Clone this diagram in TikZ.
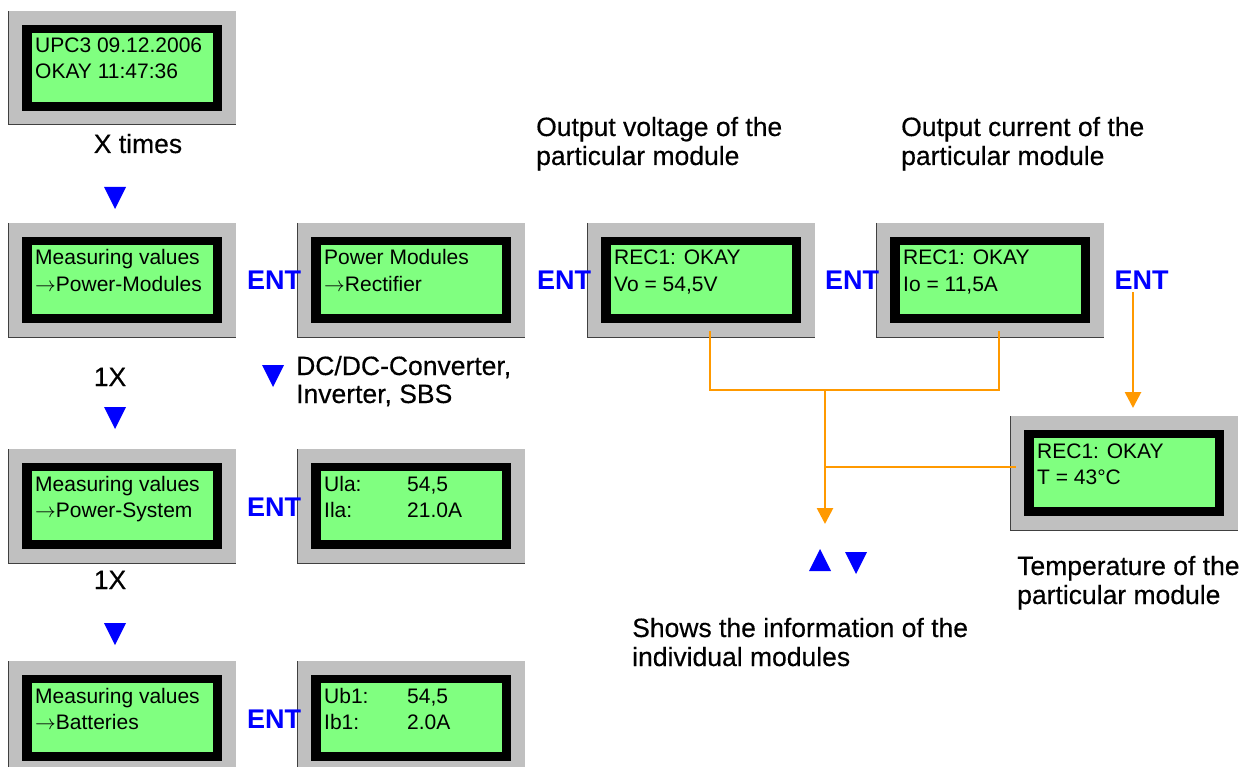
\documentclass[tikz,border=0pt]{standalone}
\usepackage{fontspec}
\setmainfont{Liberation Sans}
\newfontfamily\lblfont[FakeBold=0.35]{Liberation Sans}
\usetikzlibrary{arrows.meta}
\definecolor{lcdgray}{HTML}{C0C0C0}
\definecolor{lcdgreen}{HTML}{80FF80}
\definecolor{entblue}{HTML}{0000FF}
\definecolor{conor}{HTML}{FF9900}
\tikzset{
  lcdframe/.style={fill=lcdgray, minimum width=228pt, minimum height=114pt, inner sep=0pt, outer sep=0pt, draw=none},
  lcdtext/.style={font=\fontsize{21}{25}\selectfont, inner sep=0pt, anchor=base west},
  lbl/.style={font=\lblfont\fontsize{26.5}{30}\selectfont, inner sep=0pt, anchor=base west},
  ent/.style={font=\fontsize{27}{30}\selectfont\bfseries, text=entblue, inner sep=0pt, anchor=base},
  edgeline/.style={draw=black!75, line width=1pt},
  orthin/.style={draw=conor, line width=1.6pt},
  orthick/.style={draw=conor, line width=2.7pt, -{Triangle[width=16pt,length=16pt]}},
  bluetri/.style={fill=entblue},
}
\newcommand\lcdarrow{$\rightarrow$}
\newcommand\lcdbox[5]{%
  \node[lcdframe, anchor=north west] (#1) at (#2,#3) {};
  \fill[black] ([shift={(14pt,-14pt)}]#1.north west) rectangle ([shift={(-14pt,14pt)}]#1.south east);
  \fill[lcdgreen] ([shift={(24pt,-22pt)}]#1.north west) rectangle ([shift={(-23pt,23pt)}]#1.south east);
  \draw[edgeline] (#1.north west) -- (#1.south west) -- (#1.south east);
  \node[lcdtext] (#1l1) at ([shift={(27pt,-42pt)}]#1.north west) {#4};
  \node[lcdtext] (#1l2) at ([shift={(27pt,-68pt)}]#1.north west) {#5};
}
\newcommand\downtri[2]{\fill[bluetri] (#1-11,#2) -- (#1+11,#2) -- (#1,#2+22) -- cycle;}
\newcommand\uptri[2]{\fill[bluetri] (#1-11,#2+22) -- (#1+11,#2+22) -- (#1,#2) -- cycle;}
\begin{document}
\begin{tikzpicture}[x=1pt,y=-1pt]
\useasboundingbox (0,0) rectangle (1258,767);
% LCD boxes
\lcdbox{A}{8}{11}{UPC3 09.12.2006}{OKAY 11:47:36}
\lcdbox{B}{8}{223}{Measuring values}{\lcdarrow Power-Modules}
\lcdbox{C}{297}{223}{Power Modules}{\lcdarrow Rectifier}
\lcdbox{D}{587}{223}{REC1: OKAY}{Vo = 54,5V}
\lcdbox{E}{876}{223}{REC1: OKAY}{Io = 11,5A}
\lcdbox{F}{1010}{416}{REC1: OKAY}{T = 43°C}
\lcdbox{G}{8}{449}{Measuring values}{\lcdarrow Power-System}
\lcdbox{H}{297}{449}{\makebox[83pt][l]{Ula:}54,5}{\makebox[83pt][l]{Ila:}21.0A}
\lcdbox{I}{8}{661}{Measuring values}{\lcdarrow Batteries}
\lcdbox{J}{297}{661}{\makebox[83pt][l]{Ub1:}54,5}{\makebox[83pt][l]{Ib1:}2.0A}
% ENT labels
\node[ent] (ent1) at (274,290) {ENT};
\node[ent] (ent2) at (564,290) {ENT};
\node[ent] (ent3) at (852,290) {ENT};
\node[ent] (ent4) at (1141.5,290) {ENT};
\node[ent] (ent5) at (274,516) {ENT};
\node[ent] (ent6) at (274,728) {ENT};
% labels
\node[lbl, anchor=base] (xt) at (138,153) {X times};
\node[lbl, anchor=base] (onexa) at (110,386) {1X};
\node[lbl, anchor=base] (onexb) at (110,589) {1X};
\node[lbl] (dca) at (296,375) {DC/DC-Converter,};
\node[lbl] (dcb) at (296,403) {Inverter, SBS};
\node[lbl] (ova) at (536,136) {Output voltage of the};
\node[lbl] (ovb) at (536,165) {particular module};
\node[lbl] (oca) at (901,136) {Output current of the};
\node[lbl] (ocb) at (901,165) {particular module};
\node[lbl] (tma) at (1017,575) {Temperature of the};
\node[lbl] (tmb) at (1017,604) {particular module};
\node[lbl] (sha) at (632,637) {Shows the information of the};
\node[lbl] (shb) at (632,666) {individual modules};
% blue triangles
\downtri{115}{187}
\downtri{115}{407}
\downtri{115}{623}
\downtri{273}{365}
\uptri{820}{549}
\downtri{856}{552}
% orange connectors
\coordinate (j1) at (825,390);
\coordinate (j2) at (825,467);
\coordinate (updn) at (825,524);
\draw[orthin] ([shift={(9pt,6pt)}]D.south) |- (j1);
\draw[orthin] ([shift={(9pt,6pt)}]E.south) |- (j1);
\draw[orthick] (j1) -- (updn);
\draw[orthin] (j2) -- ([xshift=6pt]j2 -| F.west);
\draw[orthick] ([shift={(-8.5pt,-2pt)}]ent4.south) -- ([xshift=-8.5pt,yshift=8pt]ent4.south |- F.north);
\end{tikzpicture}
\end{document}
